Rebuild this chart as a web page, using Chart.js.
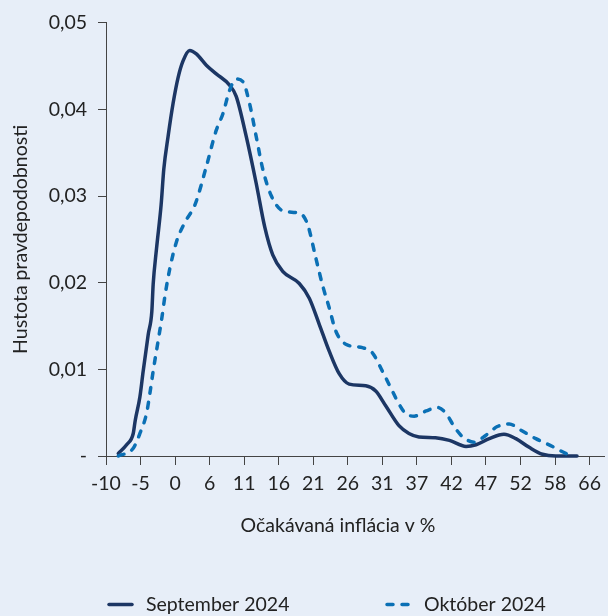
<!DOCTYPE html>
<html><head><meta charset="utf-8">
<script src="https://cdn.jsdelivr.net/npm/chart.js@4"></script>
<style>html,body{margin:0;padding:0;background:#e7eef8;} canvas{display:block}</style>
</head><body>
<canvas id="c" width="608" height="616"></canvas>
<script>
const seriesNames = ["September 2024", "Október 2024"];
const xTitle = "Očakávaná inflácia v %";
const yTitle = "Hustota pravdepodobnosti";

const sepX = [-8.15,-6.9,-5.9,-5.6,-4.9,-4.4,-3.65,-3.1,-2.9,-2.4,-1.7,-1.3,-0.65,0.1,0.86,1.6,2.6,3.6,5.1,6.6,8.6,9.6,11.1,12.6,13.9,15.1,16.6,19.1,20.6,22.1,23.6,25.1,26.6,29.1,30.6,32.1,34.1,35.6,37.1,39.6,41.7,44.2,45.7,47.7,49.9,51.7,53.7,55.7,57.7,60.9];
const sepY = [0.0003,0.0013,0.0026,0.0041,0.0068,0.0098,0.0140,0.0167,0.0198,0.0239,0.0290,0.0331,0.0369,0.0407,0.0437,0.0456,0.0468,0.0464,0.0451,0.0441,0.0428,0.0415,0.0369,0.0315,0.0264,0.0232,0.0213,0.0199,0.0182,0.0152,0.0121,0.0095,0.0083,0.0081,0.0075,0.0058,0.0035,0.0026,0.0022,0.0021,0.0018,0.0011,0.0013,0.0020,0.0025,0.0020,0.0010,0.0002,0.0000,0.0000];

const octX = [-8.15,-5.9,-4.9,-3.9,-3.4,-2.9,-2.15,-1.6,-1.1,-0.4,0.6,1.9,3.4,5.1,6.6,7.6,8.6,9.6,10.6,11.6,12.6,13.6,14.9,16.6,18.6,19.6,20.4,21.6,22.6,23.6,24.6,26.1,28.6,30.1,31.6,33.1,34.1,35.1,36.4,38.2,39.9,41.2,42.4,43.7,45.4,47.2,48.9,50.7,52.4,54.7,57.2,59.2,60.2];
const octY = [0.0000,0.0009,0.0026,0.0049,0.0072,0.0098,0.0133,0.0159,0.0186,0.0216,0.0247,0.0270,0.0290,0.0334,0.0376,0.0395,0.0422,0.0435,0.0432,0.0407,0.0369,0.0331,0.0300,0.0283,0.0281,0.0278,0.0266,0.0228,0.0197,0.0171,0.0144,0.0129,0.0125,0.0119,0.0098,0.0075,0.0060,0.0049,0.0046,0.0052,0.0056,0.0049,0.0034,0.0022,0.0016,0.0024,0.0034,0.0037,0.0030,0.0020,0.0011,0.0003,0.0000];

const xTickValues = [-10,-4.8,0.4,5.6,10.8,16,21.2,26.4,31.6,36.8,42,47.2,52.4,57.6,62.8];
const xTickLabels = ["-10","-5","0","6","11","16","21","26","31","37","42","47","52","58","66"];
const yTickValues = [0,0.01,0.02,0.03,0.04,0.05];
const yTickLabels = ["-","0,01","0,02","0,03","0,04","0,05"];

const FONT = 'Lato, "Noto Sans", sans-serif';
const FS = 19.5;
const TXT = '#222222';
const AXIS = '#444444';

const styles = [
  {borderColor:'#1c3664', borderWidth:3.5, borderDash:[], borderCapStyle:'round', order:1},
  {borderColor:'#0b70b5', borderWidth:3.5, borderDash:[6,9], borderCapStyle:'round', order:0}
];

const textPlugin = {
  id: 'texts',
  afterDraw(chart) {
    const ctx = chart.ctx, area = chart.chartArea;
    ctx.save();
    ctx.fillStyle = TXT;
    ctx.font = FS + 'px ' + FONT;
    ctx.textBaseline = 'middle';
    ctx.textAlign = 'center';
    ctx.fillText(xTitle, 338, 526);
    ctx.save();
    ctx.translate(21, (area.top + area.bottom) / 2);
    ctx.rotate(-Math.PI / 2);
    ctx.fillText(yTitle, 0, 0);
    ctx.restore();
    const legendPos = [{sx:107, tx:146}, {sx:385, tx:424}];
    const ly = 604.5;
    chart.data.datasets.forEach((ds, i) => {
      const p = legendPos[i];
      ctx.save();
      ctx.strokeStyle = ds.borderColor;
      ctx.lineWidth = ds.borderWidth;
      ctx.lineCap = 'round';
      ctx.setLineDash(ds.borderDash || []);
      ctx.beginPath();
      ctx.moveTo(p.sx + 2, ly);
      ctx.lineTo(p.sx + 25, ly);
      ctx.stroke();
      ctx.restore();
      ctx.textAlign = 'left';
      ctx.fillText(ds.label, p.tx, ly);
    });
    ctx.restore();
  }
};

const mk = (xs, ys) => xs.map((x, i) => ({x: x, y: ys[i]}));

new Chart(document.getElementById('c'), {
  type: 'line',
  data: {
    datasets: [
      Object.assign({label: seriesNames[0], data: mk(sepX, sepY), pointRadius:0, fill:false, cubicInterpolationMode:'monotone', clip:false}, styles[0]),
      Object.assign({label: seriesNames[1], data: mk(octX, octY), pointRadius:0, fill:false, cubicInterpolationMode:'monotone', clip:false}, styles[1])
    ]
  },
  options: {
    responsive: false,
    animation: false,
    devicePixelRatio: 1,
    layout: {padding: {top: 18, right: 2, left: 0, bottom: 0}},
    plugins: {legend: {display: false}, tooltip: {enabled: false}},
    scales: {
      x: {
        type: 'linear', min: -10, max: 65,
        afterBuildTicks: s => { s.ticks = xTickValues.map(v => ({value: v})); },
        afterFit: s => { s.height = 160; },
        ticks: {callback: (v, i) => xTickLabels[i], autoSkip: false, maxRotation: 0, color: TXT, font: {family: FONT, size: FS}, padding: 7},
        grid: {drawOnChartArea: false, drawTicks: true, tickLength: 9, color: AXIS},
        border: {display: true, color: AXIS, width: 1}
      },
      y: {
        min: 0, max: 0.05,
        afterBuildTicks: s => { s.ticks = yTickValues.map(v => ({value: v})); },
        afterFit: s => { s.width = 106; },
        ticks: {callback: (v, i) => yTickLabels[i], color: TXT, font: {family: FONT, size: FS}, padding: 11},
        grid: {drawOnChartArea: false, drawTicks: true, tickLength: 8, color: AXIS},
        border: {display: true, color: AXIS, width: 1}
      }
    }
  },
  plugins: [textPlugin]
});
</script>
</body></html>
